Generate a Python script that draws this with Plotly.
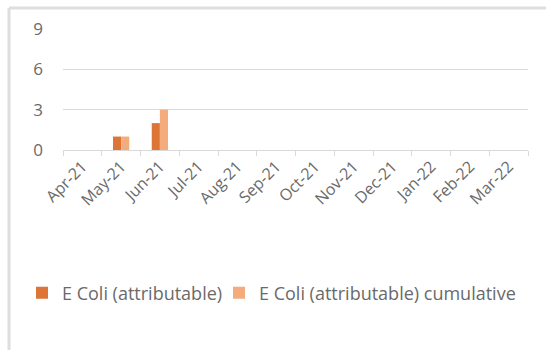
import plotly.graph_objects as go

# Monthly E. coli (attributable) cases, financial year 2021/22
months = ["Apr-21", "May-21", "Jun-21", "Jul-21", "Aug-21", "Sep-21",
          "Oct-21", "Nov-21", "Dec-21", "Jan-22", "Feb-22", "Mar-22"]
monthly_cases = [0, 1, 2, None, None, None, None, None, None, None, None, None]
cumulative_cases = [0, 1, 3, None, None, None, None, None, None, None, None, None]
y_ticks = [0, 3, 6, 9]

dark_orange = "#DC7535"
light_orange = "#F4AC7C"
grey_text = "#6A6A6A"
frame_grey = "#DEDEDE"

fig = go.Figure()
fig.add_trace(go.Bar(x=months, y=monthly_cases, name="E Coli (attributable)",
                     marker=dict(color=dark_orange, line=dict(width=0)),
                     legend="legend"))
fig.add_trace(go.Bar(x=months, y=cumulative_cases, name="E Coli (attributable) cumulative",
                     marker=dict(color=light_orange, line=dict(width=0)),
                     legend="legend2"))

# plot area geometry (pixels) used to place the frame and legends
W, H = 546, 350
ml, mr, mt, mb = 63, 18, 29, 200
pw, ph = W - ml - mr, H - mt - mb

def px_x(p):
    return (p - ml) / pw

def px_y(p):
    return (H - mb - p) / ph

frame_x = px_x(9)
frame_top = px_y(8)
fig.add_shape(type="line", xref="paper", yref="paper",
              x0=frame_x, x1=frame_x, y0=frame_top, y1=px_y(H + 5),
              line=dict(color=frame_grey, width=3))
fig.add_shape(type="line", xref="paper", yref="paper",
              x0=frame_x, x1=px_x(W + 5), y0=frame_top, y1=frame_top,
              line=dict(color=frame_grey, width=3))

legend_style = dict(orientation="h", xanchor="left", yanchor="middle",
                    y=px_y(293), font=dict(size=18, color=grey_text),
                    itemclick=False, bgcolor="rgba(0,0,0,0)",
                    borderwidth=0)

fig.update_layout(
    width=W, height=H,
    margin=dict(l=ml, r=mr, t=mt, b=mb, pad=0),
    paper_bgcolor="white", plot_bgcolor="white",
    barmode="group", bargap=0.58, bargroupgap=0,
    font=dict(family="Open Sans", color=grey_text),
    showlegend=True,
    legend=dict(x=px_x(22), **legend_style),
    legend2=dict(x=px_x(219), **legend_style),
)
fig.update_xaxes(
    type="category", categoryorder="array", categoryarray=months,
    tickangle=-45, tickfont=dict(size=16, color=grey_text),
    showgrid=False, showline=True, linecolor="#D9D9D9", linewidth=1,
    ticks="outside", ticklen=5, tickcolor="#D9D9D9", tickson="boundaries",
    fixedrange=True,
)
fig.update_yaxes(
    range=[0, 9], tickvals=y_ticks, ticktext=[str(v) for v in y_ticks],
    tickfont=dict(size=17, color=grey_text), ticklabelstandoff=19,
    showgrid=True, gridcolor="#D9D9D9", gridwidth=1,
    zeroline=False, showline=False, fixedrange=True,
)

fig.write_html("out.html")
